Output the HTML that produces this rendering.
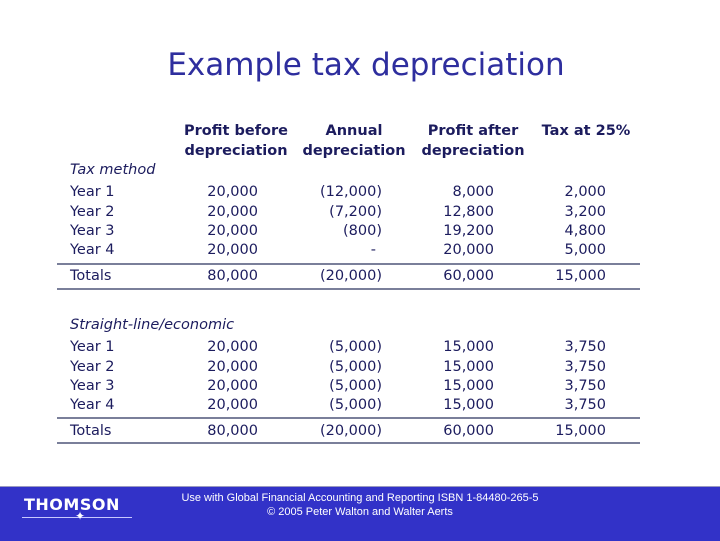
<!DOCTYPE html>
<html><head><meta charset="utf-8"><style>
body{margin:0;width:720px;height:540px;position:relative;background:#fff;overflow:hidden;font-family:"DejaVu Sans","Liberation Sans",sans-serif;color:#1c1c5e}
.t{position:absolute;white-space:nowrap;font-size:14.5px;line-height:16px}
.r{text-align:right}
.b{font-weight:bold}
.i{font-style:italic}
.line{position:absolute;left:57px;width:583px;height:2px;background:#7a7f9a}
</style></head><body>
<div style="position:absolute;left:0;width:732px;top:47px;text-align:center;font-size:31px;color:#2e2e9e;font-family:'DejaVu Sans',sans-serif">Example tax depreciation</div>
<div id="tbl"></div>
<div style="position:absolute;left:0;top:486px;width:720px;height:54px;background:#3232c8;border-top:1px solid #9a9ac0">
 <div style="position:absolute;left:24px;top:8px;color:#fff;font:bold 16px 'DejaVu Sans',sans-serif;letter-spacing:0.5px">THOMSON</div>
 <div style="position:absolute;left:22px;top:30px;width:110px;height:1px;background:#c8c8ff"></div>
 <div style="position:absolute;left:75px;top:22px;color:#fff;font-size:12px">✦</div>
 <div style="position:absolute;left:150px;width:420px;top:4px;text-align:center;color:#fff;font:11px/14px 'Liberation Sans',sans-serif">Use with Global Financial Accounting and Reporting ISBN 1-84480-265-5<br>© 2005 Peter Walton and Walter Aerts</div>
</div>
<script>
const rights=[258,380,494,606];
const headers1=["Profit before","Annual","Profit after","Tax at 25%"];
const headers2=["depreciation","depreciation","depreciation",""];
const sec1=[["Year 1","20,000","(12,000)","8,000","2,000"],["Year 2","20,000","(7,200)","12,800","3,200"],["Year 3","20,000","(800)","19,200","4,800"],["Year 4","20,000","-","20,000","5,000"]];
const tot1=["Totals","80,000","(20,000)","60,000","15,000"];
const sec2=[["Year 1","20,000","(5,000)","15,000","3,750"],["Year 2","20,000","(5,000)","15,000","3,750"],["Year 3","20,000","(5,000)","15,000","3,750"],["Year 4","20,000","(5,000)","15,000","3,750"]];
const tot2=tot1;
const T=document.getElementById('tbl');
function txt(s,x,y,cls,right,name){const d=document.createElement('div');d.className='t '+cls;d.textContent=s;


if(right){d.style.right=(720-x)+'px';}else d.style.left=x+'px';d.style.top=(y-9)+'px';T.appendChild(d);}
function hdr(){headers1.forEach((h,i)=>{const cx=[236,354,473,586][i];const d=document.createElement('div');d.className='t b';d.style.left=(cx-70)+'px';d.style.width='140px';d.style.textAlign='center';d.style.top='121px';d.innerHTML=h+'<br>'+headers2[i];d.style.lineHeight='20px';


T.appendChild(d);});}
hdr();
function row(r,y,bold){txt(r[0],70,y,bold?'b':'',false,'row-label');for(let i=1;i<5;i++){let x=rights[i-1];if(r[i]==='-')x-=4;if(r[i].endsWith(')'))x+=2;txt(r[i],x,y,'',true,'cell-value');}}
function line(y){const d=document.createElement('div');d.className='line';d.style.top=y+'px';


T.appendChild(d);}
txt('Tax method',70,171,'i',false,'section-label');
const ys1=[193,213,232,251];sec1.forEach((r,i)=>row(r,ys1[i]));
line(263);row(tot1,277);line(288);
txt('Straight-line/economic',70,326,'i',false,'section-label');
const ys2=[348,368,387,406];sec2.forEach((r,i)=>row(r,ys2[i]));
line(417);row(tot2,432);line(442);
</script>
</body></html>
